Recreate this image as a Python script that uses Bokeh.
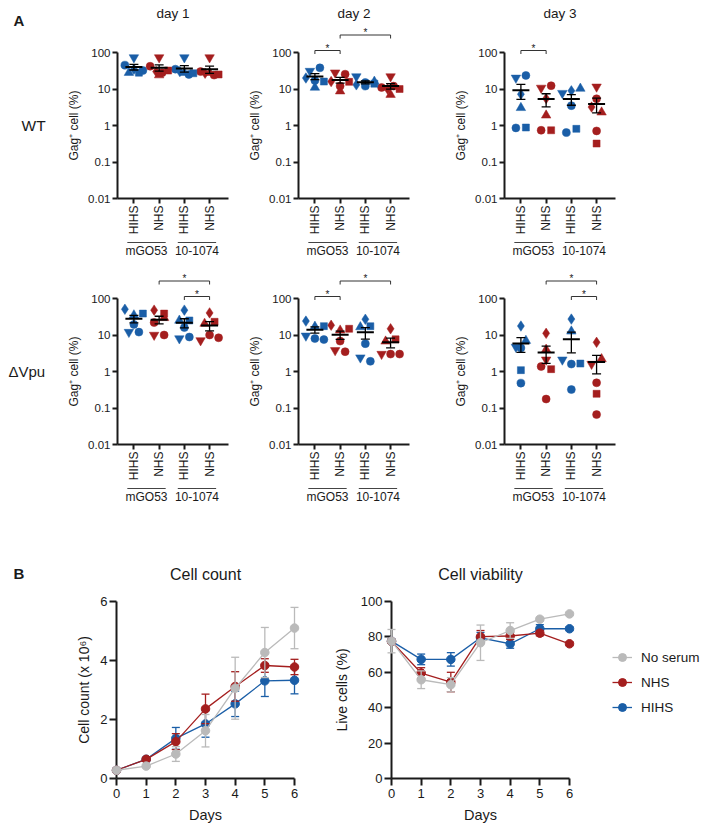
import math
import numpy as np
from bokeh.plotting import figure
from bokeh.layouts import column, row
from bokeh.models import Range1d, FixedTicker, CustomJSTickFormatter, Legend, LegendItem
from bokeh.core.properties import value
from bokeh.embed import file_html
from bokeh.resources import INLINE

# ---------------- data ----------------
group_conditions = ["HIHS", "NHS", "HIHS", "NHS"]
antibody_labels = ["mGO53", "10-1074"]
day_titles = ["day 1", "day 2", "day 3"]
virus_labels = ["WT", "ΔVpu"]
donor_markers = ["inverted_triangle", "circle", "diamond", "triangle", "circle", "square"]
gag_ticks = [0.01, 0.1, 1, 10, 100]

# Gag+ cells (%) per donor (order of donor_markers)
# groups: mGO53 HIHS, mGO53 NHS, 10-1074 HIHS, 10-1074 NHS
wt_day1 = [[73, 45, 35, 28, 32, 28], [73, 42, 30, 24, 28, 32],
           [73, 35, 30, 28, 25, 27], [73, 30, 27, 28, 24, 25]]
wt_day2 = [[31, 38, 20, 11, 17, 16], [28, 25.5, 16, 8.7, 12, 15.7],
           [22, 15, 13, 16, 12, 14], [22, 11, 10, 7, 12, 10]]
wt_day3 = [[20.2, 23.5, 7.2, 3.05, 0.86, 0.88], [10.7, 12.3, 5.5, 1.9, 0.74, 0.74],
           [7.7, 3.5, 8.9, 10.3, 0.64, 0.81], [11.5, 5.4, 3.2, 2.3, 0.71, 0.32]]
vpu_day1 = [[12, 19.5, 50.8, 35, 12, 38.6], [10, 21.9, 48, 29.5, 10, 38.6],
            [8, 16, 48, 25, 8.8, 25], [7.1, 10, 40.3, 20.5, 8.4, 23]]
vpu_day2 = [[9.5, 8, 24, 17, 7.5, 17.5], [3.8, 6.8, 18.5, 13.4, 3.5, 14.8],
            [2.4, 5.8, 27, 16.5, 1.9, 17.4], [3.0, 3.0, 14.8, 6.7, 3.0, 7.6]]
vpu_day3 = [[4.7, 4.4, 17.6, 7.0, 0.48, 1.09], [2.1, 1.37, 11.1, 4.0, 0.176, 1.16],
            [2.1, 1.6, 27.3, 12.6, 0.32, 1.65], [1.6, 0.49, 6.3, 2.2, 0.066, 0.245]]

# significance brackets (pairs of group indices); first lower, second higher
wt_sig = [[], [(0, 1), (1, 3)], [(0, 1)]]
vpu_sig = [[(2, 3), (1, 3)], [(0, 1), (1, 3)], [(2, 3), (1, 3)]]

# panel B
days = [0, 1, 2, 3, 4, 5, 6]
series_names = ["No serum", "NHS", "HIHS"]
count_noserum = [0.28, 0.42, 0.83, 1.62, 3.06, 4.27, 5.10]
count_noserum_err = [0.03, 0.04, 0.25, 0.55, 1.05, 0.85, 0.70]
count_nhs = [0.28, 0.65, 1.25, 2.36, 3.12, 3.83, 3.78]
count_nhs_err = [0.03, 0.05, 0.27, 0.50, 0.50, 0.23, 0.26]
count_hihs = [0.28, 0.65, 1.36, 1.85, 2.53, 3.31, 3.33]
count_hihs_err = [0.03, 0.05, 0.37, 0.45, 0.43, 0.53, 0.46]
viab_noserum = [77.6, 55.8, 53.0, 76.7, 83.6, 90.0, 93.0]
viab_noserum_err = [6.6, 5.0, 4.0, 10.0, 4.4, 1.0, 0.8]
viab_nhs = [77.5, 59.6, 54.5, 80.1, 80.5, 82.1, 76.1]
viab_nhs_err = [1.0, 3.0, 5.5, 3.5, 2.0, 1.5, 1.0]
viab_hihs = [77.6, 67.3, 67.3, 79.5, 76.1, 84.6, 84.6]
viab_hihs_err = [1.0, 3.0, 3.8, 3.0, 2.5, 2.3, 1.0]

# ---------------- style ----------------
FONT = "Liberation Sans"
BLUE = "#1a5ea7"
RED = "#a41e1e"
GRAY = "#bababa"
INK = "#1a1a1a"
COND_COLOR = {"HIHS": BLUE, "NHS": RED}
SERIES_COLOR = {"No serum": GRAY, "NHS": RED, "HIHS": BLUE}
MSIZE = {"inverted_triangle": 9.5, "triangle": 9.5, "circle": 8, "diamond": 10.5, "square": 7}
B_LINE_W = 1.3
B_MARK = 8.5


class Frame:
    def __init__(self, left, top, width, height, xr, yr, ylog=False):
        self.left, self.top, self.width, self.height = left, top, width, height
        self.right, self.bottom = left + width, top + height
        self.xr, self.yr, self.ylog = xr, yr, ylog

    def dx(self, px):
        return self.xr[0] + (px - self.left) / self.width * (self.xr[1] - self.xr[0])

    def dy(self, py):
        f = (self.bottom - py) / self.height
        if self.ylog:
            a, b = math.log10(self.yr[0]), math.log10(self.yr[1])
            return 10 ** (a + f * (b - a))
        return self.yr[0] + f * (self.yr[1] - self.yr[0])


def make_figure(fig_l, fig_r, fig_t, fig_b, fr, axes=True):
    kw = {}
    if not axes:
        kw = dict(x_axis_location=None, y_axis_location=None)
    p = figure(width=fig_r - fig_l, height=fig_b - fig_t,
               x_range=Range1d(*fr.xr), y_range=Range1d(*fr.yr),
               y_axis_type="log" if fr.ylog else "linear",
               min_border_left=fr.left - fig_l, min_border_right=fig_r - fr.right,
               min_border_top=fr.top - fig_t, min_border_bottom=fig_b - fr.bottom,
               output_backend="svg", toolbar_location=None, **kw)
    p.outline_line_color = None
    p.xgrid.visible = False
    p.ygrid.visible = False
    p.background_fill_color = "white"
    p.border_fill_color = "white"
    for ax in p.axis:
        ax.axis_line_width = 2
        ax.axis_line_color = INK
        ax.major_tick_line_width = 2
        ax.major_tick_line_color = INK
        ax.major_tick_in = 0
        ax.minor_tick_line_color = None
        ax.major_label_text_font = FONT
        ax.major_label_text_color = INK
        ax.axis_label_text_font = FONT
        ax.axis_label_text_font_style = "normal"
        ax.axis_label_text_color = INK
    return p


def label(p, x, y, text, size, align="center", baseline="middle", bold=False, color=INK):
    p.text(x=[x], y=[y], text=[text], text_font=value(FONT), text_font_size=value(size),
           text_font_style="bold" if bold else "normal", text_color=color,
           text_align=align, text_baseline=baseline, level="overlay")


def swarm(vals, ppd, thresh=6.5, spacing=10.0, max_half=9.0):
    ys = np.log10(vals) * ppd
    order = sorted(range(len(vals)), key=lambda i: -ys[i])
    rows = []
    for i in order:
        if rows and abs(ys[rows[-1][0]] - ys[i]) < thresh:
            rows[-1].append(i)
        else:
            rows.append([i])
    offs = np.zeros(len(vals))
    for r in rows:
        n = len(r)
        if n < 2:
            continue
        sp = min(spacing, 2 * max_half / (n - 1))
        for k, i in enumerate(sorted(r)):
            offs[i] = (k - (n - 1) / 2) * sp
    return offs


# ---------------- panel A ----------------
A_COLS = [(0, 240, 117), (240, 440, 298), (440, 701, 504)]
A_ROWS = [(0, 270, 52), (270, 520, 298)]
A_FW, A_FH = 111, 146
A_XR = (0.35, 4.75)


def panel_a(ri, ci, data, sig):
    fig_l, fig_r, fl = A_COLS[ci]
    fig_t, fig_b, ft = A_ROWS[ri]
    fr = Frame(fl, ft, A_FW, A_FH, A_XR, (gag_ticks[0], gag_ticks[-1]), True)
    p = make_figure(fig_l, fig_r, fig_t, fig_b, fr)
    ppu = A_FW / (A_XR[1] - A_XR[0])
    ppd = A_FH / (len(gag_ticks) - 1)

    pts = {}
    for g, vals in enumerate(data):
        v = np.asarray(vals, float)
        offs = swarm(v, ppd) / ppu
        col = COND_COLOR[group_conditions[g]]
        for i, m in enumerate(donor_markers):
            d = pts.setdefault(m, {"x": [], "y": [], "c": []})
            d["x"].append(g + 1 + offs[i])
            d["y"].append(v[i])
            d["c"].append(col)
    for m, d in pts.items():
        p.scatter(d["x"], d["y"], marker=m, size=MSIZE[m], fill_color=d["c"],
                  line_color=d["c"], line_width=0.5)

    gx = np.arange(1, len(data) + 1, dtype=float)
    means = np.array([np.mean(v) for v in data])
    sems = np.array([np.std(v, ddof=1) / np.sqrt(len(v)) for v in data])
    cap = 4.5 / ppu
    half = 8.5 / ppu
    p.segment(gx, means - sems, gx, means + sems, line_color="black", line_width=1.3)
    p.segment(gx - cap, means + sems, gx + cap, means + sems, line_color="black", line_width=1.3)
    p.segment(gx - cap, means - sems, gx + cap, means - sems, line_color="black", line_width=1.3)
    p.segment(gx - half, means, gx + half, means, line_color="black", line_width=2)

    # significance brackets
    for lvl, (a, b) in enumerate(sig):
        yl_px = ft - (2 if lvl == 0 else 17.5)
        yl, yt = fr.dy(yl_px), fr.dy(yl_px + 3.5)
        xa, xb = a + 1, b + 1
        p.multi_line([[xa, xa, xb, xb]], [[yt, yl, yl, yt]], line_color="#333333",
                     line_width=1, level="overlay")
        label(p, (xa + xb) / 2, fr.dy(yl_px - 2.5), "*", "10px", baseline="alphabetic")

    # antibody group labels
    fb = fr.bottom
    for k, ab in enumerate(antibody_labels):
        xc = 2 * k + 1.5
        yl = fr.dy(fb + 44)
        p.segment([xc - 0.76], [yl], [xc + 0.76], [yl], line_color="#444444",
                  line_width=1, level="overlay")
        label(p, xc, fr.dy(fb + 52), ab, "12px")

    if ri == 0:
        label(p, sum(A_XR) / 2, fr.dy(13), day_titles[ci], "13.5px")
    if ci == 0:
        if ri == 0:
            label(p, fr.dx(13), fr.dy(20), "A", "15px", align="left", bold=True)
            label(p, fr.dx(21), fr.dy(125), virus_labels[0], "15.5px", align="left")
        else:
            label(p, fr.dx(8), fr.dy(371), virus_labels[1], "15px", align="left")

    p.xaxis.ticker = FixedTicker(ticks=list(range(1, len(group_conditions) + 1)))
    p.xaxis.major_label_overrides = {i + 1: c for i, c in enumerate(group_conditions)}
    p.xaxis.major_label_orientation = math.pi / 2
    p.xaxis.major_label_text_font_size = "12px"
    p.xaxis.major_tick_out = 5
    p.xaxis.major_label_standoff = 2
    p.yaxis.ticker = FixedTicker(ticks=gag_ticks, minor_ticks=[])
    p.yaxis.formatter = CustomJSTickFormatter(code="return tick.toString();")
    p.yaxis.major_label_text_font_size = "11.5px"
    p.yaxis.major_tick_out = 5
    p.yaxis.major_label_standoff = 2
    p.yaxis.axis_label = "Gag⁺ cell (%)"
    p.yaxis.axis_label_text_font_size = "12px"
    p.yaxis.axis_label_standoff = 4
    return p


wt_data = [wt_day1, wt_day2, wt_day3]
vpu_data = [vpu_day1, vpu_day2, vpu_day3]
row_a1 = row(*[panel_a(0, c, wt_data[c], wt_sig[c]) for c in range(3)])
row_a2 = row(*[panel_a(1, c, vpu_data[c], vpu_sig[c]) for c in range(3)])

# ---------------- panel B ----------------
B_ROW = (520, 831, 601)
B_COLS = [(0, 330, 116), (330, 590, 391)]
B_FW, B_FH = 178, 177


def panel_b(ci, series, yr, yticks, ylabel, title):
    fig_l, fig_r, fl = B_COLS[ci]
    fig_t, fig_b, ft = B_ROW
    fr = Frame(fl, ft, B_FW, B_FH, (days[0], days[-1]), yr)
    p = make_figure(fig_l, fig_r, fig_t, fig_b, fr)
    cap = 4.0 / (B_FW / (days[-1] - days[0]))
    x = np.array(days, float)
    for name in ["HIHS", "NHS", "No serum"]:
        vals, err = series[name]
        vals = np.array(vals, float)
        err = np.array(err, float)
        c = SERIES_COLOR[name]
        p.segment(x, vals - err, x, vals + err, line_color=c, line_width=B_LINE_W, level="overlay")
        p.segment(x - cap, vals + err, x + cap, vals + err, line_color=c, line_width=B_LINE_W, level="overlay")
        p.segment(x - cap, vals - err, x + cap, vals - err, line_color=c, line_width=B_LINE_W, level="overlay")
        p.line(x, vals, line_color=c, line_width=B_LINE_W, level="overlay")
        p.scatter(x, vals, marker="circle", size=B_MARK, fill_color=c, line_color=c, level="overlay")
    label(p, sum(fr.xr) / 2, fr.dy(574), title, "16px")
    if ci == 0:
        label(p, fr.dx(13), fr.dy(573), "B", "15px", align="left", bold=True)
    p.xaxis.ticker = FixedTicker(ticks=days, minor_ticks=[])
    p.yaxis.ticker = FixedTicker(ticks=yticks, minor_ticks=[])
    for ax in p.axis:
        ax.major_tick_out = 7
        ax.major_label_text_font_size = "13px"
        ax.axis_label_text_font_size = "14px"
    p.xaxis.major_label_standoff = 3
    p.xaxis.axis_label = "Days"
    p.xaxis.axis_label_text_font_size = "14.5px"
    p.xaxis.axis_label_standoff = 6
    p.yaxis.major_label_standoff = 2
    p.yaxis.axis_label = ylabel
    p.yaxis.axis_label_standoff = 5 if ci == 0 else 8
    return p


def legend_panel():
    fig_l, fig_r = B_COLS[1][1], 701
    fig_t, fig_b, ft = B_ROW
    # same vertical frame as the other panel-B plots (rows align frames)
    fr = Frame(612, ft, fig_r - 612, B_FH, (0, 1), (0, 1))
    p = make_figure(fig_l, fig_r, fig_t, fig_b, fr, axes=False)
    items = []
    for name in series_names:
        c = SERIES_COLOR[name]
        lr = p.line(x=[np.nan], y=[np.nan], line_color=c, line_width=B_LINE_W)
        sr = p.scatter(x=[np.nan], y=[np.nan], marker="circle", size=B_MARK, fill_color=c, line_color=c)
        items.append(LegendItem(label=name, renderers=[lr, sr]))
    lg = Legend(items=items, location=(0, fr.bottom - 717), padding=0, margin=0,
                spacing=5, glyph_width=20, glyph_height=20, label_height=20,
                label_standoff=9, border_line_color=None, background_fill_alpha=0,
                label_text_font=FONT, label_text_font_size="13.5px", label_text_color=INK)
    p.add_layout(lg, "center")
    return p


count_series = {"No serum": (count_noserum, count_noserum_err), "NHS": (count_nhs, count_nhs_err),
                "HIHS": (count_hihs, count_hihs_err)}
viab_series = {"No serum": (viab_noserum, viab_noserum_err), "NHS": (viab_nhs, viab_nhs_err),
               "HIHS": (viab_hihs, viab_hihs_err)}
pb1 = panel_b(0, count_series, (0, 6), [0, 2, 4, 6], "Cell count (x 10⁶)", "Cell count")
pb2 = panel_b(1, viab_series, (0, 100), [0, 20, 40, 60, 80, 100], "Live cells (%)", "Cell viability")
row_b = row(pb1, pb2, legend_panel())

layout = column(row_a1, row_a2, row_b)
open("out.html", "w").write(file_html(layout, INLINE))
